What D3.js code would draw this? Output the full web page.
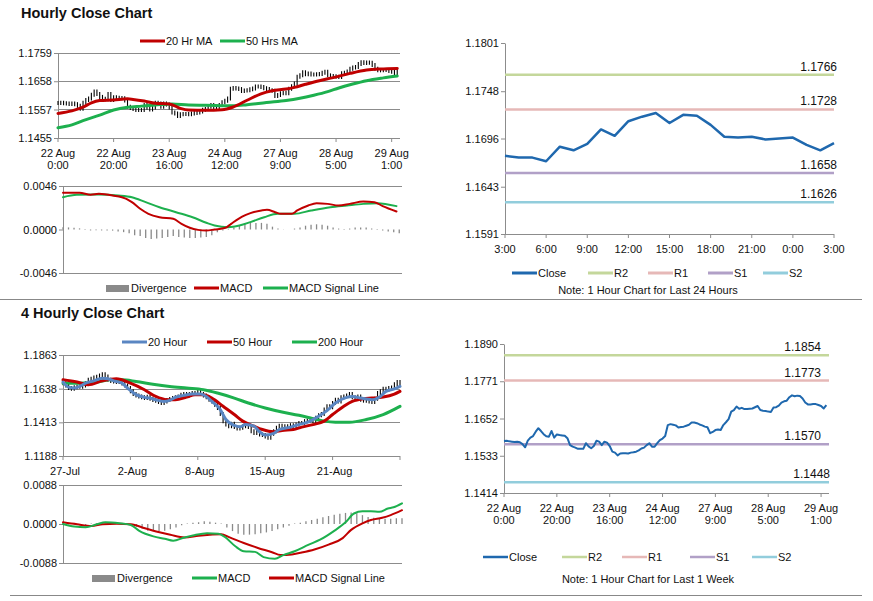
<!DOCTYPE html>
<html lang="en">
<head>
<meta charset="UTF-8" />
<title>Hourly and 4 Hourly Close Charts</title>
<script src="https://d3js.org/d3.v7.min.js"></script>
<style>
  body { margin: 0; background: #fff; }
</style>
</head>
<body>
<script>
// ---- hourly closes, 22 Aug 0:00 .. 29 Aug 3:00 (used by top-left bars and bottom-right line)
var hourlyClose = [
  1.1580,1.1581,1.1579,1.1578,1.1577,1.1578,1.1576,1.1570,1.1560,1.1581,
  1.1591,1.1596,1.1610,1.1621,1.1612,1.1602,1.1595,1.1594,1.1612,1.1591,
  1.1601,1.1599,1.1598,1.1597,1.1589,1.1567,1.1562,1.1559,1.1555,1.1555,
  1.1555,1.1573,1.1563,1.1557,1.1564,1.1581,1.1578,1.1567,1.1578,1.1575,
  1.1564,1.1546,1.1543,1.1534,1.1540,1.1541,1.1541,1.1540,1.1543,1.1544,
  1.1546,1.1550,1.1556,1.1559,1.1567,1.1573,1.1562,1.1562,1.1573,1.1583,
  1.1588,1.1596,1.1631,1.1634,1.1632,1.1630,1.1623,1.1625,1.1626,1.1629,
  1.1632,1.1639,1.1639,1.1637,1.1633,1.1630,1.1626,1.1624,1.1605,1.1609,
  1.1615,1.1617,1.1615,1.1631,1.1640,1.1650,1.1674,1.1679,1.1690,1.1683,
  1.1686,1.1682,1.1682,1.1683,1.1684,1.1688,1.1692,1.1679,1.1677,1.1676,
  1.1674,1.1673,1.1687,1.1688,1.1693,1.1703,1.1707,1.1709,1.1720,1.1726,
  1.1723,1.1725,1.1724,1.1716,1.1703,1.1697,1.1697,1.1698,1.1698,1.1695,
  1.1692,1.1684,1.1695
];
var hourTickIdx = [0, 20, 40, 60, 80, 100, 120];
var hourTickDay = ["22 Aug", "22 Aug", "23 Aug", "24 Aug", "27 Aug", "28 Aug", "29 Aug"];
var hourTickTime = ["0:00", "20:00", "16:00", "12:00", "9:00", "5:00", "1:00"];

var ma20Idx = [0,5,9,12,15,20,25,27,31,35,40,44,47,53,59,63,68,73,77,82,85,89,94,99,105,111,116,122];
var ma20 = [1.1543,1.1552,1.1565,1.1581,1.1589,1.1591,1.1595,1.1593,1.1587,1.1579,
  1.1577,1.1561,1.1555,1.1554,1.1556,1.1566,1.1590,1.1613,1.1624,1.1630,
  1.1636,1.1647,1.1660,1.1671,1.1686,1.1698,1.1702,1.1704];
var ma50Idx = [0,5,9,15,20,25,30,35,41,47,53,63,68,75,82,87,92,97,101,106,111,117,122];
var ma50 = [1.1492,1.1502,1.1517,1.1537,1.1555,1.1565,1.1569,1.1573,1.1577,1.1573,
  1.1572,1.1570,1.1574,1.1582,1.1589,1.1597,1.1608,1.1621,1.1634,1.1648,
  1.1660,1.1670,1.1677];
var hourYTicks = [1.1455, 1.1557, 1.1658, 1.1759];

// hourly MACD
var macd1Idx = [0,6,10,13,18,23,25,28,31,35,40,43,46,49,52,55,59,61,65,68,72,74,77,79,83,85,89,92,96,100,104,109,113,116,121];
var macd1 = [0.00388,0.00388,0.00367,0.00377,0.00360,0.00324,0.00289,0.00219,0.00166,0.00130,
  0.00113,0.00060,0.00018,-0.00004,-0.00011,0.0,0.00018,0.00060,0.00137,0.00173,
  0.00201,0.00208,0.00183,0.00166,0.00166,0.00201,0.00254,0.00278,0.00271,0.00254,
  0.00271,0.00296,0.00289,0.00247,0.00190];
var signal1Idx = [0,5,13,20,25,30,35,41,47,52,55,60,64,68,73,78,84,90,97,103,109,114,121];
var signal1 = [0.00342,0.00367,0.00370,0.00360,0.00342,0.00289,0.00236,0.00183,0.00130,0.00071,
  0.00042,0.00025,0.00042,0.00078,0.00130,0.00166,0.00166,0.00201,0.00236,0.00254,
  0.00271,0.00278,0.00247];
// divergence, every second hour
var div1 = [0.00025,0.00022,0.00018,0.00012,-0.00005,-0.0001,-0.00008,-0.0001,-0.0001,-0.00012,
  -0.0002,-0.00028,-0.0004,-0.0006,-0.0007,-0.0009,-0.001,-0.00095,-0.0009,-0.0008,
  -0.0007,-0.0008,-0.00085,-0.0009,-0.0009,-0.00085,-0.0008,-0.0006,-0.0003,-0.0001,
  0.00005,0.0002,0.0004,0.0006,0.00075,0.0007,0.0007,0.0006,0.0003,0.0001,
  0.00002,0.0,0.0001,0.0002,0.0004,0.0005,0.00055,0.0005,0.0004,0.0002,
  0.0001,0.00005,0.0001,0.0002,0.0002,0.0002,0.0001,-0.00005,-0.0001,-0.0002,
  -0.0003,-0.0004];
var macd1Ticks = [-0.0046, 0.0, 0.0046];

// last 24 hours
var close24 = [1.1677,1.1675,1.1675,1.1671,1.1687,1.1683,1.1690,1.1706,1.1699,1.1715,
  1.1720,1.1724,1.1713,1.1722,1.1721,1.1711,1.1698,1.1697,1.1698,1.1695,
  1.1696,1.1697,1.1689,1.1683,1.1691];
var day24TickIdx = [0, 3, 6, 9, 12, 15, 18, 21, 24];
var day24TickLab = ["3:00", "6:00", "9:00", "12:00", "15:00", "18:00", "21:00", "0:00", "3:00"];
var day24YTicks = [1.1591, 1.1643, 1.1696, 1.1748, 1.1801];
var pivotNames = ["R2", "R1", "S1", "S2"];
var pivotDay = [1.1766, 1.1728, 1.1658, 1.1626];
var pivotWeek = [1.1854, 1.1773, 1.1570, 1.1448];
var week24YTicks = [1.1414, 1.1533, 1.1652, 1.1771, 1.1890];

// 4 hourly closes
var fourHourClose = [
  1.1675,1.1659,1.1642,1.1637,1.1648,1.1653,1.1651,1.1659,1.1675,1.1697,
  1.1704,1.1713,1.1717,1.1726,1.1735,1.1719,1.1697,1.1690,1.1686,1.1682,
  1.1686,1.1673,1.1659,1.1642,1.1620,1.1602,1.1593,1.1586,1.1580,1.1575,
  1.1584,1.1571,1.1562,1.1558,1.1549,1.1542,1.1553,1.1562,1.1569,1.1575,
  1.1580,1.1586,1.1598,1.1602,1.1593,1.1602,1.1609,1.1606,1.1615,1.1602,
  1.1593,1.1580,1.1564,1.1553,1.1531,1.1509,1.1469,1.1421,1.1398,1.1387,
  1.1403,1.1381,1.1372,1.1376,1.1387,1.1394,1.1381,1.1354,1.1341,1.1350,
  1.1332,1.1328,1.1319,1.1310,1.1336,1.1354,1.1376,1.1390,1.1372,1.1387,
  1.1381,1.1394,1.1381,1.1398,1.1409,1.1409,1.1421,1.1425,1.1432,1.1421,
  1.1443,1.1460,1.1469,1.1498,1.1520,1.1513,1.1542,1.1564,1.1553,1.1580,
  1.1586,1.1593,1.1602,1.1580,1.1575,1.1586,1.1564,1.1558,1.1569,1.1553,
  1.1549,1.1571,1.1609,1.1620,1.1637,1.1631,1.1642,1.1646,1.1668,1.1682,
  1.1675
];
var fourTickIdx = [0, 24, 48, 72, 96, 120];
var fourTickLab = ["27-Jul", "2-Aug", "8-Aug", "15-Aug", "21-Aug", ""];
var fourYTicks = [1.1188, 1.1413, 1.1638, 1.1863];

var ma20hIdx = [0,2,4,6,8,11,14,16,18,21,23,26,29,31,33,36,38,40,43,46,49,51,53,56,58,61,63,65,68,70,72,75,77,81,84,88,91,94,97,101,103,106,108,110,113,115,118,120];
var ma20h = [1.1682,1.1648,1.1642,1.1653,1.1675,1.1690,1.1708,1.1704,1.1690,1.1675,
  1.1642,1.1598,1.1580,1.1575,1.1564,1.1553,1.1560,1.1580,1.1593,1.1602,
  1.1602,1.1586,1.1553,1.1498,1.1432,1.1392,1.1383,1.1398,1.1387,1.1350,
  1.1328,1.1339,1.1365,1.1381,1.1398,1.1421,1.1454,1.1491,1.1542,1.1580,
  1.1586,1.1575,1.1569,1.1564,1.1586,1.1620,1.1637,1.1653];
var ma50hIdx = [0,5,9,14,19,24,29,33,37,40,44,47,50,53,57,61,64,68,71,75,78,82,85,89,93,96,100,103,107,110,114,118,120];
var ma50h = [1.1697,1.1682,1.1664,1.1690,1.1704,1.1675,1.1631,1.1586,1.1564,1.1564,
  1.1582,1.1598,1.1598,1.1575,1.1520,1.1465,1.1421,1.1387,1.1365,1.1350,
  1.1359,1.1365,1.1381,1.1398,1.1421,1.1465,1.1520,1.1553,1.1571,1.1575,
  1.1582,1.1602,1.1620];
var ma200hIdx = [0,6,12,17,21,26,32,38,44,50,55,61,66,72,78,84,89,93,97,102,108,114,120];
var ma200h = [1.1675,1.1675,1.1682,1.1697,1.1697,1.1686,1.1668,1.1653,1.1642,1.1631,
  1.1609,1.1575,1.1542,1.1509,1.1482,1.1460,1.1438,1.1421,1.1414,1.1414,
  1.1432,1.1465,1.1520];

// 4 hourly MACD
var macd4Idx = [0,4,8,12,15,20,24,27,32,36,39,43,46,51,55,57,61,64,68,71,75,78,82,87,91,96,100,103,106,109,112,115,117,120];
var macd4 = [0,-0.00059,-0.00074,-0.00007,0.00037,0.00015,-0.00022,-0.00155,-0.0028,-0.00333,
  -0.00377,-0.00303,-0.00259,-0.00207,-0.00222,-0.0028,-0.00503,-0.00614,-0.00629,-0.00747,
  -0.00784,-0.00702,-0.00614,-0.00466,-0.00355,-0.00155,0.00037,0.00237,0.00288,0.00288,
  0.00274,0.00348,0.00377,0.00466];
var signal4Idx = [0,5,10,14,19,24,29,33,38,43,48,52,56,59,64,69,74,77,81,84,89,94,99,102,106,109,113,116,120];
var signal4 = [0.00037,-0.00007,-0.00044,-0.00007,0.00007,-0.00007,-0.00096,-0.0017,-0.00244,-0.00303,
  -0.00266,-0.00244,-0.00229,-0.00303,-0.00429,-0.0054,-0.00636,-0.00702,-0.00688,-0.00651,
  -0.00577,-0.00466,-0.00318,-0.00133,0.00015,0.00089,0.0014,0.002,0.00311];
var div4 = [0.0001,-0.0001,-0.0002,-0.0003,-0.0002,0.0001,0.0002,0.0003,0.0002,0.0001,
  0.0001,0.0,-0.0002,-0.0006,-0.001,-0.0015,-0.0016,-0.0016,-0.0015,-0.0012,
  -0.0008,-0.0003,0.0001,0.0003,0.0004,0.0006,0.0005,0.0003,0.0001,-0.0008,
  -0.0016,-0.0022,-0.0024,-0.0024,-0.0023,-0.0021,-0.0019,-0.0016,-0.0012,-0.0008,
  -0.0004,0.0001,0.0003,0.0006,0.0009,0.0012,0.0015,0.0018,0.0021,0.0023,
  0.0025,0.0026,0.0024,0.002,0.0016,0.0014,0.0013,0.0012,0.0012,0.0013,
  0.0013];
var macd4Ticks = [-0.0088, 0.0, 0.0088];

// ---- styling
var FONT = '"Liberation Sans", Arial, sans-serif';
var GRAY = "#8c8c8c";
var RED = "#C00000";
var GREEN = "#1DB04E";
var BLUE = "#5A86C2";
var CLOSE = "#1F68AE";
var DIVC = "#8a8a8a";
var pivotColors = ["#C4D79B", "#E6B8B7", "#B1A0C7", "#92CDDC"];

var svg = d3.select("body").append("svg")
  .attr("width", 873).attr("height", 601)
  .attr("font-family", FONT);

function fmt4(d) { return d.toFixed(4); }

function yAxis(x, y, ticks, gridTo) {
  var g = svg.append("g").attr("transform", "translate(" + x + ",0)")
    .call(d3.axisLeft(y).tickValues(ticks).tickFormat(fmt4)
      .tickSize(4).tickPadding(2).tickSizeOuter(0));
  g.attr("font-family", FONT).attr("font-size", 11);
  g.select(".domain").attr("stroke", GRAY);
  g.selectAll(".tick line").attr("stroke", GRAY);
  g.selectAll(".tick text").attr("fill", "#111");
  if (gridTo) {
    svg.append("g").selectAll("line").data(ticks).join("line")
      .attr("x1", x).attr("x2", gridTo)
      .attr("y1", function (d) { return Math.round(y(d)) + 0.5; })
      .attr("y2", function (d) { return Math.round(y(d)) + 0.5; })
      .attr("stroke", GRAY).attr("stroke-width", 1);
  }
}

function xAxisLine(x, yPos) {
  svg.append("line")
    .attr("x1", x.range()[0]).attr("x2", x.range()[1])
    .attr("y1", yPos + 0.5).attr("y2", yPos + 0.5)
    .attr("stroke", GRAY);
}

function xTicks(x, yPos, idx, lab1, lab2, dx) {
  svg.append("g").selectAll("line").data(idx).join("line")
    .attr("x1", function (d) { return x(d); }).attr("x2", function (d) { return x(d); })
    .attr("y1", yPos).attr("y2", yPos + 4)
    .attr("stroke", GRAY);
  var t = svg.append("g").selectAll("text").data(idx).join("text")
    .attr("x", function (d) { return x(d) + (dx || 0); })
    .attr("y", yPos + 19)
    .attr("text-anchor", "middle")
    .attr("font-size", 11).attr("fill", "#111");
  t.append("tspan").text(function (d, i) { return lab1[i]; });
  if (lab2) {
    t.append("tspan").attr("x", function (d) { return x(d) + (dx || 0); })
      .attr("dy", 12).text(function (d, i) { return lab2[i]; });
  }
}

function drawLine(x, y, idx, vals, color, width) {
  var line = d3.line()
    .x(function (d) { return x(d[0]); })
    .y(function (d) { return y(d[1]); })
    .curve(d3.curveMonotoneX);
  svg.append("path")
    .datum(d3.zip(idx, vals))
    .attr("d", line)
    .attr("fill", "none")
    .attr("stroke", color)
    .attr("stroke-width", width)
    .attr("stroke-linejoin", "round")
    .attr("stroke-linecap", "round");
}

function drawStraight(x, y, vals, color, width) {
  svg.append("path")
    .datum(vals)
    .attr("d", d3.line().x(function (d, i) { return x(i); }).y(function (d) { return y(d); }))
    .attr("fill", "none").attr("stroke", color).attr("stroke-width", width)
    .attr("stroke-linejoin", "round");
}

// bar from previous close to close, like a small candle
function drawBars(x, y, vals) {
  svg.append("g").selectAll("line").data(vals).join("line")
    .attr("x1", function (d, i) { return x(i); })
    .attr("x2", function (d, i) { return x(i); })
    .attr("y1", function (d, i) { var p = i > 0 ? vals[i - 1] : d; return Math.min(y(d), y(p)) - 2; })
    .attr("y2", function (d, i) { var p = i > 0 ? vals[i - 1] : d; return Math.max(y(d), y(p)) + 2; })
    .attr("stroke", "#000").attr("stroke-width", 1.1);
}

function drawDiv(x, y, vals, step) {
  svg.append("g").selectAll("line").data(vals).join("line")
    .attr("x1", function (d, i) { return x(i * step); })
    .attr("x2", function (d, i) { return x(i * step); })
    .attr("y1", y(0))
    .attr("y2", function (d) { return y(d); })
    .attr("stroke", DIVC).attr("stroke-width", 1.3);
}

function legendLine(x, yPos, color, label, w) {
  svg.append("line").attr("x1", x).attr("x2", x + 25)
    .attr("y1", yPos).attr("y2", yPos)
    .attr("stroke", color).attr("stroke-width", w || 3);
  svg.append("text").attr("x", x + 26).attr("y", yPos + 4)
    .attr("font-size", 11).attr("fill", "#111").text(label);
}

function legendBox(x, yPos, label) {
  svg.append("rect").attr("x", x).attr("y", yPos - 3).attr("width", 23).attr("height", 7)
    .attr("fill", DIVC);
  svg.append("text").attr("x", x + 25).attr("y", yPos + 4)
    .attr("font-size", 11).attr("fill", "#111").text(label);
}

function pivots(x, y, vals, labelEnd) {
  vals.forEach(function (v, i) {
    svg.append("line")
      .attr("x1", x.range()[0]).attr("x2", x.range()[1])
      .attr("y1", y(v)).attr("y2", y(v))
      .attr("stroke", pivotColors[i]).attr("stroke-width", 2.5);
    svg.append("text")
      .attr("x", labelEnd[i]).attr("y", y(v) - 4)
      .attr("text-anchor", "end")
      .attr("font-size", 12).attr("fill", "#111")
      .text(fmt4(v));
  });
}

// ---- titles and separators
svg.append("text").attr("x", 21).attr("y", 18).attr("font-size", 14.5)
  .attr("font-weight", "bold").attr("fill", "#111").text("Hourly Close Chart");
svg.append("text").attr("x", 21).attr("y", 318).attr("font-size", 14.5)
  .attr("font-weight", "bold").attr("fill", "#111").text("4 Hourly Close Chart");
svg.append("line").attr("x1", 0).attr("x2", 862).attr("y1", 299.5).attr("y2", 299.5)
  .attr("stroke", "#888");
svg.append("line").attr("x1", 10).attr("x2", 862).attr("y1", 595.5).attr("y2", 595.5)
  .attr("stroke", "#888");

// ---- A: hourly close with moving averages
var xA = d3.scaleLinear().domain([0, 123]).range([58, 400]);
var yA = d3.scaleLinear().domain([1.1455, 1.1759]).range([138, 53]);
yAxis(58, yA, hourYTicks, 400);
xTicks(xA, 138, hourTickIdx, hourTickDay, hourTickTime);
drawBars(xA, yA, hourlyClose);
drawLine(xA, yA, ma50Idx, ma50, GREEN, 3);
drawLine(xA, yA, ma20Idx, ma20, RED, 3);
legendLine(140, 41, RED, "20 Hr MA");
legendLine(220, 41, GREEN, "50 Hrs MA");

// ---- B: hourly MACD
var xB = d3.scaleLinear().domain([0, 123]).range([63, 402]);
var yB = d3.scaleLinear().domain([-0.0046, 0.0046]).range([273, 186]);
yAxis(63, yB, [-0.0046, 0.0046], 402);
svg.append("g").attr("transform", "translate(63,0)")
  .call(d3.axisLeft(yB).tickValues([0]).tickFormat(fmt4).tickSize(4).tickPadding(2))
  .attr("font-family", FONT).attr("font-size", 11)
  .call(function (g) { g.select(".domain").remove(); g.selectAll("line").attr("stroke", GRAY); });
drawDiv(xB, yB, div1, 2);
drawLine(xB, yB, signal1Idx, signal1, GREEN, 2);
drawLine(xB, yB, macd1Idx, macd1, RED, 2);
legendBox(106, 288, "Divergence");
legendLine(194, 288, RED, "MACD");
legendLine(263, 288, GREEN, "MACD Signal Line");

// ---- C: last 24 hours with pivots
var xC = d3.scaleLinear().domain([0, 24]).range([505, 834]);
var yC = d3.scaleLinear().domain([1.1591, 1.1801]).range([234, 43]);
yAxis(505, yC, day24YTicks, null);
xAxisLine(xC, 234);
xTicks(xC, 234, day24TickIdx, day24TickLab, null);
pivots(xC, yC, pivotDay, [837, 837, 837, 837]);
drawStraight(xC, yC, close24, CLOSE, 2.5);
legendLine(512, 273, CLOSE, "Close");
legendLine(588, 273, pivotColors[0], "R2");
legendLine(648, 273, pivotColors[1], "R1");
legendLine(708, 273, pivotColors[2], "S1");
legendLine(763, 273, pivotColors[3], "S2");
svg.append("text").attr("x", 648).attr("y", 294).attr("text-anchor", "middle")
  .attr("font-size", 11).attr("fill", "#111").text("Note: 1 Hour Chart for Last 24 Hours");

// ---- D: 4 hourly close with moving averages
var xD = d3.scaleLinear().domain([0, 120]).range([63, 400]);
var yD = d3.scaleLinear().domain([1.1188, 1.1863]).range([456, 355]);
yAxis(63, yD, fourYTicks, 400);
xTicks(xD, 456, fourTickIdx, fourTickLab, null, 2);
drawBars(xD, yD, fourHourClose);
drawLine(xD, yD, ma200hIdx, ma200h, GREEN, 3);
drawLine(xD, yD, ma50hIdx, ma50h, RED, 3);
drawLine(xD, yD, ma20hIdx, ma20h, BLUE, 3);
legendLine(122, 342, BLUE, "20 Hour");
legendLine(207, 342, RED, "50 Hour");
legendLine(292, 342, GREEN, "200 Hour");

// ---- E: 4 hourly MACD
var xE = d3.scaleLinear().domain([0, 120]).range([63, 402]);
var yE = d3.scaleLinear().domain([-0.0088, 0.0088]).range([563, 485]);
yAxis(63, yE, [-0.0088, 0.0088], 402);
svg.append("g").attr("transform", "translate(63,0)")
  .call(d3.axisLeft(yE).tickValues([0]).tickFormat(fmt4).tickSize(4).tickPadding(2))
  .attr("font-family", FONT).attr("font-size", 11)
  .call(function (g) { g.select(".domain").remove(); g.selectAll("line").attr("stroke", GRAY); });
drawDiv(xE, yE, div4, 2);
drawLine(xE, yE, signal4Idx, signal4, RED, 2);
drawLine(xE, yE, macd4Idx, macd4, GREEN, 2);
legendBox(92, 578, "Divergence");
legendLine(192, 578, GREEN, "MACD");
legendLine(269, 578, RED, "MACD Signal Line");

// ---- F: last week hourly with pivots
var xF = d3.scaleLinear().domain([0, 123]).range([504, 829]);
var yF = d3.scaleLinear().domain([1.1414, 1.1890]).range([493, 344]);
yAxis(504, yF, week24YTicks, null);
xAxisLine(xF, 493);
xTicks(xF, 493, hourTickIdx, hourTickDay, hourTickTime);
pivots(xF, yF, pivotWeek, [821, 821, 821, 830]);
drawStraight(xF, yF, hourlyClose, CLOSE, 2);
legendLine(483, 557, CLOSE, "Close", 2.5);
legendLine(562, 557, pivotColors[0], "R2", 2.5);
legendLine(622, 557, pivotColors[1], "R1", 2.5);
legendLine(690, 557, pivotColors[2], "S1", 2.5);
legendLine(752, 557, pivotColors[3], "S2", 2.5);
svg.append("text").attr("x", 648).attr("y", 583).attr("text-anchor", "middle")
  .attr("font-size", 11).attr("fill", "#111").text("Note: 1 Hour Chart for Last 1 Week");
</script>
</body>
</html>
